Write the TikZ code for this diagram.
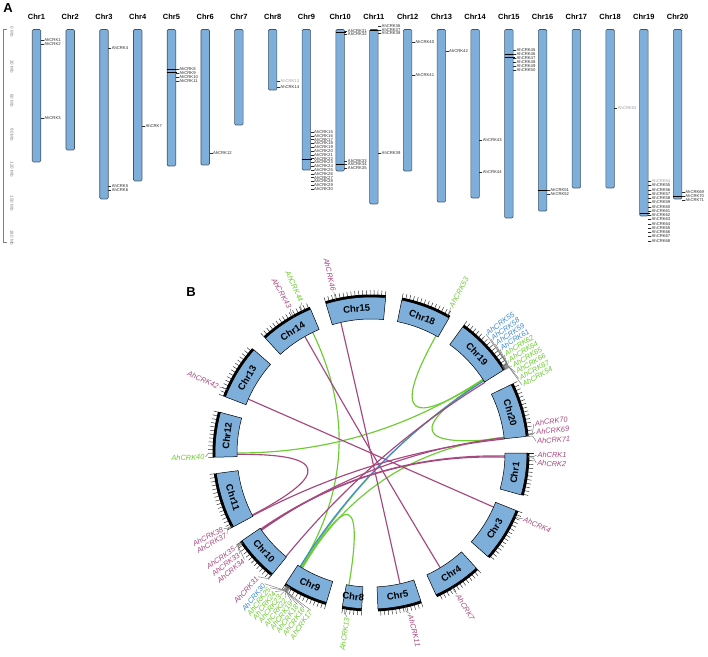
\documentclass[tikz,border=0pt]{standalone}
\usepackage{fontspec}
\setmainfont{Liberation Sans}
\usetikzlibrary{calc}
\definecolor{chrblue}{RGB}{125,175,218}
\definecolor{chredge}{RGB}{70,85,100}
\definecolor{lmag}{RGB}{166,72,128}
\definecolor{lgreen}{RGB}{108,204,48}
\definecolor{lblue}{RGB}{62,140,208}
\definecolor{alabc}{RGB}{45,45,45}
\definecolor{agrayc}{RGB}{160,160,160}
\definecolor{connc}{RGB}{110,110,110}
\tikzset{
  panel/.style={font=\fontsize{13}{14}\selectfont\bfseries, inner sep=0pt},
  abar/.style={fill=chrblue, draw=chredge, line width=0.6pt, rounded corners=1.2pt},
  aname/.style={font=\fontsize{7.5}{8}\selectfont\bfseries, inner sep=0pt},
  alab/.style={font=\fontsize{4.2}{4.5}\selectfont, inner sep=0.3pt, anchor=west},
  atick/.style={draw=alabc, line width=0.3pt},
  amark/.style={draw=black, line width=0.8pt},
  axisl/.style={draw=gray, line width=0.4pt},
  axlab/.style={font=\fontsize{4.5}{5}\selectfont, text=gray, inner sep=0pt},
  chrbox/.style={fill=chrblue, draw=black, line width=0.5pt},
  band/.style={draw=black, line width=2.6pt},
  btick/.style={draw=black!85, line width=0.45pt},
  bname/.style={font=\fontsize{9.5}{10}\selectfont\bfseries, inner sep=0pt},
  glab/.style={font=\fontsize{7.4}{8}\selectfont\itshape, inner sep=0.5pt},
  conn/.style={draw=connc, line width=0.4pt},
  lkm/.style={draw=lmag, line width=1.15pt},
  lkg/.style={draw=lgreen, line width=1.15pt},
  lkb/.style={draw=lblue, line width=1.15pt}
}
% panel A helpers
\newcommand\alab[4][alabc]{%
  \pgfmathsetmacro\lx{36.5+33.74*(#2-1)}%
  \draw[atick] ({\lx+4.3},#3) -- ({\lx+7.3},#3);
  \node[alab,text=#1] (a#4) at ({\lx+7.3},#3) {AhCRK#4};
}
\newcommand\amark[2]{%
  \pgfmathsetmacro\mx{36.5+33.74*(#1-1)}%
  \draw[amark] ({\mx-4.25},#2) -- ({\mx+6},#2);
}
% panel B helpers
\newcommand\chrom[5]{%
  \filldraw[chrbox] (#2:134) arc[start angle=#2,end angle=#3,radius=134] -- (#3:156) arc[start angle=#3,end angle=#2,radius=156] -- cycle;
  \foreach \j in {0,...,#4} {\draw[btick] ({#2-\j*1.376}:157) -- ({#2-\j*1.376}:162.8);}
  \draw[band] (#2:157.2) arc[start angle=#2,end angle=#3,radius=157.2];
  \node[bname,rotate=#5] (chr#1) at ({(#2+#3)/2}:145) {Chr#1};
}
\newcommand\glR[5]{%
  \draw[conn] (#2:157) -- (#2:162.5) -- (#3:165.5);
  \node[glab,text=#4,anchor=west,rotate=#5] (L#1) at (#3:166) {AhCRK#1};
}
\newcommand\glL[6][166]{%
  \draw[conn] (#3:157) -- (#3:162.5) -- (#4:{#1-0.5});
  \node[glab,text=#5,anchor=east,rotate=#6] (L#2) at (#4:#1) {AhCRK#2};
}
\newcommand\lk[3]{\draw[#1] (#2) .. controls ($(#2)!0.6667!(O)$) and ($(#3)!0.6667!(O)$) .. (#3);}
\begin{document}
\begin{tikzpicture}[x=1pt,y=1pt]
\path[use as bounding box, fill=white] (0,0) rectangle (708,656);

% ================= Panel A =================
\begin{scope}[shift={(0,656)},yscale=-1]
  \node[panel] (pA) at (8,8.5) {A};
  \draw[axisl] (6.5,29.5) -- (3,29.5) -- (3,242.5) -- (6.5,242.5);
  \foreach \v/\yy in {0/32,30/66.3,60/100.6,90/134.9,120/169.2,150/203.5,180/237.8}
    \node[axlab,rotate=-90] (ax\v) at (12,\yy) {\v\ Mb};
  \foreach \i/\b in {1/162,2/150,3/199,4/181,5/166,6/165,7/125,8/90,9/170,10/171,11/204,12/171,13/202,14/198,15/218,16/211,17/188,18/188,19/216,20/199}{
    \pgfmathsetmacro\cx{36.5+33.74*(\i-1)}
    \draw[abar] ({\cx-4.25},29.5) rectangle ({\cx+4.25},\b);
    \node[aname] (an\i) at (\cx,17) {Chr\i};
  }
  % black marks
  \amark{5}{69.5}\amark{5}{72.5}
  \amark{9}{159}
  \amark{10}{32.5}\amark{10}{164}
  \amark{11}{30}
  \amark{15}{54}\amark{15}{57}
  \amark{16}{190}
  \amark{19}{213}
  \amark{20}{196}
  % labels
  \alab{1}{40}{1}\alab{1}{44}{2}\alab{1}{118}{3}
  \alab{3}{48}{4}\alab{3}{186}{5}\alab{3}{190}{6}
  \alab{4}{126}{7}
  \alab{5}{69}{8}\alab{5}{73}{9}\alab{5}{77}{10}\alab{5}{81}{11}
  \alab{6}{153}{12}
  \alab[agrayc]{8}{81}{13}\alab{8}{87}{14}
  \foreach \n [count=\k from 0] in {15,...,30}{\pgfmathsetmacro\yy{132+3.8*\k}\alab{9}{\yy}{\n}}
  \alab{10}{31}{31}\alab{10}{34.5}{32}
  \alab{10}{161}{33}\alab{10}{164.5}{34}\alab{10}{168}{35}
  \alab{11}{26.5}{36}\alab{11}{30}{37}\alab{11}{33.5}{38}\alab{11}{153}{39}
  \alab{12}{42}{40}\alab{12}{75}{41}
  \alab{13}{51}{42}
  \alab{14}{140}{43}\alab{14}{172}{44}
  \foreach \n [count=\k from 0] in {45,...,50}{\pgfmathsetmacro\yy{50+4*\k}\alab{15}{\yy}{\n}}
  \alab{16}{190}{51}\alab{16}{194}{52}
  \alab[agrayc]{18}{108}{53}
  \alab[agrayc]{19}{181}{54}
  \foreach \n [count=\k from 0] in {55,...,68}{\pgfmathsetmacro\yy{185.5+4.25*\k}\alab{19}{\yy}{\n}}
  \alab{20}{192}{69}\alab{20}{196}{70}\alab{20}{200}{71}
  \node[panel] (pB) at (191,292) {B};
\end{scope}

% ================= Panel B =================
\begin{scope}[shift={(371,203)}]
  \coordinate (O) at (0,0);
  \foreach \nm/\an in {e43/119.6,e7/-58.9,e46/103,e11/-77.5,e42/156.3,e4/-23.8,e12m/180.6,e38/207.6,e37/207.9,e71/6.0,e35/214.6,e1/-1.3,e33/214.9,e2/-1.8,e34/215.2,e70/6.5,e31/230.6,e19m/31.8,e44/115.8,e9a/238.3,e53/61,e19a/33.2,e19b/33.0,e20g/6.3,e19c/33.4,e40/180.0,e19d/32.8,e9b/238.6,e9c/238.9,e20h/6.8,e13/260.5,e9d/239.2,e30/238.0,e19e/32.6}
    \coordinate (\nm) at (\an:134);
  % links
  \lk{lkg}{e44}{e9a}
  \lk{lkg}{e53}{e19a}
  \lk{lkg}{e19b}{e20g}
  \lk{lkg}{e19c}{e40}
  \lk{lkg}{e19d}{e9b}
  \lk{lkg}{e9c}{e20h}
  \lk{lkg}{e13}{e9d}
  \lk{lkb}{e30}{e19e}
  \lk{lkm}{e43}{e7}
  \lk{lkm}{e46}{e11}
  \lk{lkm}{e42}{e4}
  \lk{lkm}{e12m}{e38}
  \lk{lkm}{e37}{e71}
  \lk{lkm}{e35}{e1}
  \lk{lkm}{e33}{e2}
  \lk{lkm}{e34}{e70}
  \lk{lkm}{e31}{e19m}
  % chromosomes
  \chrom{1}{0}{-15.6}{11}{82.2}
  \chrom{3}{-21.6}{-41.54}{14}{58.43}
  \chrom{4}{-47.54}{-65.37}{12}{33.54}
  \chrom{5}{-71.37}{-87.44}{11}{10.59}
  \chrom{8}{-93.44}{-100.6}{5}{-7.02}
  \chrom{9}{-106.6}{-123.14}{12}{-24.87}
  \chrom{10}{-129.14}{-145.8}{12}{-47.47}
  \chrom{11}{-151.8}{-172.44}{15}{-72.12}
  \chrom{12}{181.56}{164.9}{12}{83.23}
  \chrom{13}{158.9}{138.61}{14}{58.75}
  \chrom{14}{132.61}{112.79}{14}{32.7}
  \chrom{15}{106.79}{84.62}{16}{5.7}
  \chrom{18}{78.62}{59.97}{13}{-20.7}
  \chrom{19}{53.97}{32.03}{15}{-47}
  \chrom{20}{26.03}{6.09}{14}{-73.94}
  % right-side labels
  \glR{53}{61}{61.3}{lgreen}{61.3}
  \glR{55}{33.6}{46.0}{lblue}{35.6}
  \glR{58}{33.4}{43.6}{lblue}{34.8}
  \glR{59}{33.2}{41.2}{lblue}{33.9}
  \glR{61}{33.0}{38.8}{lblue}{33.1}
  \glR{62}{32.8}{36.4}{lgreen}{32.2}
  \glR{64}{32.6}{34.0}{lgreen}{31.4}
  \glR{65}{32.4}{31.6}{lgreen}{30.6}
  \glR{66}{32.2}{29.2}{lgreen}{29.7}
  \glR{67}{32.0}{26.8}{lgreen}{28.9}
  \glR{54}{31.8}{24.4}{lgreen}{28.0}
  \glR{70}{6.9}{10.2}{lmag}{8}
  \glR{69}{6.5}{7.2}{lmag}{6}
  \glR{71}{6.0}{4.1}{lmag}{4}
  \glR{1}{-1.3}{-0.7}{lmag}{-0.7}
  \glR{2}{-1.8}{-3.4}{lmag}{-3.4}
  \glR{4}{-23.8}{-23.4}{lmag}{-23.4}
  \glR{7}{-58.9}{-58.6}{lmag}{-58.6}
  \glR{11}{-77.5}{-76.3}{lmag}{-76.3}
  % left-side labels
  \glL{13}{260.5}{261.7}{lgreen}{81.7}
  \glL[168]{31}{230.6}{227.6}{lmag}{48}
  \glL[169]{30}{237.4}{230.9}{lblue}{51}
  \glL[169]{25}{237.6}{233.1}{lgreen}{51.5}
  \glL[169]{24}{237.8}{235.3}{lgreen}{52}
  \glL[169]{23}{238.0}{237.5}{lgreen}{52.5}
  \glL[169]{22}{238.2}{239.7}{lgreen}{53}
  \glL[169]{19}{238.4}{241.9}{lgreen}{53.5}
  \glL[169]{18}{238.6}{244.1}{lgreen}{54}
  \glL[169]{16}{238.8}{246.5}{lgreen}{54.6}
  \glL[169]{17}{239.0}{249.1}{lgreen}{55.3}
  \glL{35}{214.6}{214.9}{lmag}{34.9}
  \glL{33}{214.9}{217.5}{lmag}{37.5}
  \glL{34}{215.2}{220.1}{lmag}{39.9}
  \glL{38}{207.6}{207.1}{lmag}{27.3}
  \glL{37}{207.9}{209.5}{lmag}{29.5}
  \glL{40}{180.0}{181.4}{lgreen}{1.4}
  \glL{42}{156.3}{156.5}{lmag}{-23.5}
  \glL{43}{119.6}{119.2}{lmag}{-60.8}
  \glL{44}{115.8}{114.7}{lgreen}{-65.3}
  \glL{46}{103.0}{103.0}{lmag}{-77}
\end{scope}
\end{tikzpicture}
\end{document}
